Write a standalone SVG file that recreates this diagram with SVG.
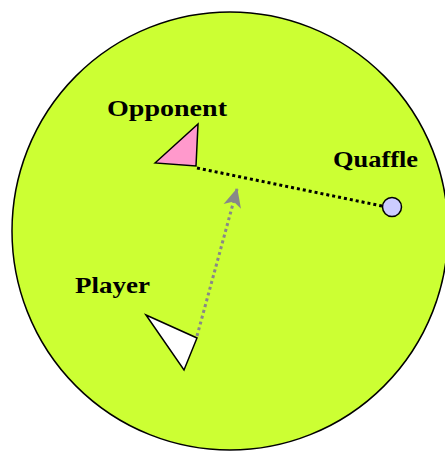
<svg xmlns="http://www.w3.org/2000/svg" width="445" height="451" viewBox="0 0 445 451">
<style>
.lbl{font-family:"Liberation Serif","DejaVu Serif",serif;font-weight:bold;font-size:24px;fill:#000}
.shape{stroke:#000;stroke-width:1.5}
</style>
<defs>
<marker id="ah" markerWidth="20" markerHeight="20" refX="18" refY="10" orient="auto" markerUnits="userSpaceOnUse" viewBox="0 0 20 20">
<path d="M0,1 L19,10 L0,19 L5,10 Z" fill="#888"/>
</marker>
</defs>
<rect width="445" height="451" fill="#fff"/>
<g id="field">
<ellipse cx="230" cy="231" rx="218" ry="219" fill="#ccff33" stroke="#000" stroke-width="1.5"/>
</g>
<g id="connectors">
<line x1="197" y1="168" x2="382" y2="206" stroke="#000" stroke-width="3" stroke-dasharray="3 3"/>
<line x1="197" y1="336" x2="237" y2="189" stroke="#888" stroke-width="3" stroke-dasharray="3 3" marker-end="url(#ah)"/>
</g>
<g id="opponent">
<polygon class="shape" points="155,163 198,124 196,166" fill="#ff99cc"/>
<text class="lbl" x="107" y="116" textLength="120" lengthAdjust="spacingAndGlyphs">Opponent</text>
</g>
<g id="quaffle">
<circle class="shape" cx="392" cy="207" r="9.5" fill="#ccccff"/>
<text class="lbl" x="333" y="167" textLength="85" lengthAdjust="spacingAndGlyphs">Quaffle</text>
</g>
<g id="player">
<polygon class="shape" points="146,315 197,338 184,370" fill="#fff"/>
<text class="lbl" x="75" y="293" textLength="75" lengthAdjust="spacingAndGlyphs">Player</text>
</g>
</svg>
